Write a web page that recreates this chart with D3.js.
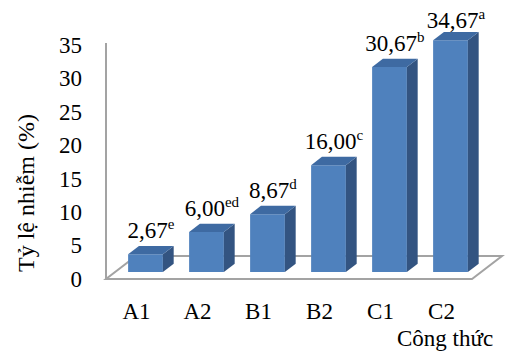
<!DOCTYPE html>
<html>
<head>
<meta charset="utf-8">
<script src="https://cdn.jsdelivr.net/npm/d3@7"></script>
<style>
  body { margin: 0; background: #fff; }
  svg { display: block; }
</style>
</head>
<body>
<svg id="chart" width="505" height="353"></svg>
<script>
// Infection rate per formula, with significance letters
const categories = ["A1", "A2", "B1", "B2", "C1", "C2"];
const values = [2.67, 6.00, 8.67, 16.00, 30.67, 34.67];
const letters = ["e", "ed", "d", "c", "b", "a"];
const yTicks = [0, 5, 10, 15, 20, 25, 30, 35];
const yTitle = "Tỷ lệ nhiễm (%)";
const xTitle = "Công thức";

const FONT = "'Liberation Serif', 'Times New Roman', Times, 'DejaVu Serif', serif";
const svg = d3.select("#chart").attr("font-family", FONT);
const locale = d3.formatLocale({ decimal: ",", thousands: ".", grouping: [3], currency: ["", ""] });
const fmt = locale.format(".2f");

// front plane scales
const x = d3.scaleBand().domain(categories).range([106, 472])
  .paddingInner(0.43).paddingOuter(0.215);
const y = d3.scaleLinear().domain([0, 35]).range([279, 45]);

// oblique depth of the floor (front edge -> back edge)
const DX = 30, DY = -23;
const d0 = 0.3, d1 = 0.66;          // bar front / back depth fractions
const ddx = (d1 - d0) * DX, ddy = (d1 - d0) * DY;
const bw = x.bandwidth();

const axisColor = "#a3a3a3";
const fontSize = 23;

// floor
const fy = y(0);
svg.append("polygon")
  .attr("points", [[106, fy], [472, fy], [472 + DX, fy + DY], [106 + DX, fy + DY]].map(p => p.join(",")).join(" "))
  .attr("fill", "#fff").attr("stroke", axisColor).attr("stroke-width", 2);

// bars
const bars = svg.append("g").selectAll("g").data(categories).join("g");
bars.each(function (c, i) {
  const g = d3.select(this);
  const x0 = x(c) + d0 * DX, x1 = x0 + bw;
  const yb = y(0) + d0 * DY, yt = y(values[i]) + d0 * DY;
  const pts = a => a.map(p => p.join(",")).join(" ");
  g.append("polygon").attr("points", pts([[x0, yt], [x1, yt], [x1, yb], [x0, yb]]))
    .attr("fill", "#4f81bd");
  g.append("polygon").attr("points", pts([[x1, yt], [x1 + ddx, yt + ddy], [x1 + ddx, yb + ddy], [x1, yb]]))
    .attr("fill", "#335481");
  g.append("polygon").attr("points", pts([[x0, yt], [x1, yt], [x1 + ddx, yt + ddy], [x0 + ddx, yt + ddy]]))
    .attr("fill", "#3e6aa2");
});

// value labels with superscript letters
bars.append("text")
  .attr("text-anchor", "middle")
  .attr("font-family", FONT)
  .attr("font-size", fontSize)
  .attr("x", c => x(c) + d0 * DX + (bw + ddx) / 2)
  .attr("y", (c, i) => Math.max(y(values[i]) + d0 * DY + ddy - 8, 28))
  .each(function (c, i) {
    const t = d3.select(this);
    t.append("tspan").text(fmt(values[i]));
    t.append("tspan").attr("font-size", 15).attr("dy", -9).text(letters[i]);
  });

// vertical axis line
svg.append("line")
  .attr("x1", 106).attr("x2", 106)
  .attr("y1", y(35) - 2).attr("y2", y(0))
  .attr("stroke", axisColor).attr("stroke-width", 2);

// y axis tick labels
const yAxis = svg.append("g").attr("transform", "translate(106,0)")
  .call(d3.axisLeft(y).tickValues(yTicks).tickSize(0).tickPadding(24))
  .attr("font-family", FONT).attr("font-size", fontSize);
yAxis.select(".domain").remove();
yAxis.selectAll("text").attr("fill", "#000");

// x axis category labels
const xAxis = svg.append("g").attr("transform", `translate(0,${y(0)})`)
  .call(d3.axisBottom(x).tickSize(0).tickPadding(24))
  .attr("font-family", FONT).attr("font-size", fontSize);
xAxis.select(".domain").remove();
xAxis.selectAll("text").attr("fill", "#000");

// titles
svg.append("text")
  .attr("transform", "translate(34,193) rotate(-90)")
  .attr("text-anchor", "middle")
  .attr("font-family", FONT).attr("font-size", 24)
  .text(yTitle);
svg.append("text")
  .attr("x", 397).attr("y", 346)
  .attr("font-family", FONT).attr("font-size", fontSize)
  .text(xTitle);
</script>
</body>
</html>
